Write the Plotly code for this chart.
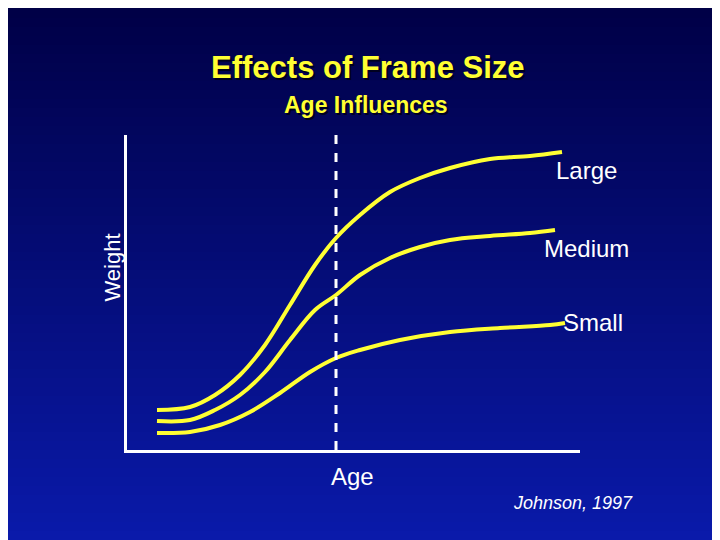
import plotly.graph_objects as go

# data (x = age units, y = weight units)
large_x = [30,63,88,113,138,163,188,209,233,263,293,323,363,403,435]
large_y = [40,43,55,75,105,145,185,212,235,258,272,282,291,294,298]
med_x = [30,63,88,113,138,163,188,209,233,263,293,323,363,403,428]
med_y = [29,30,40,55,78,110,140,155,175,192,203,210,214,217,220]
small_x = [30,63,93,123,153,183,209,233,273,323,373,423,438]
small_y = [17,18,25,38,57,78,92,100,110,118,122,125,127]

W, H = 712, 532  # page has 8px body margin
OFF = 8
fig = go.Figure()
for xs, ys in [(large_x, large_y), (med_x, med_y), (small_x, small_y)]:
    fig.add_trace(go.Scatter(x=xs, y=ys, mode="lines", line=dict(color="#ffff33", width=4, shape="spline"),
                             hoverinfo="skip", showlegend=False))

def fx(px): return (px - 127) / 453
def fy(py): return (450 - py) / 315

shapes = []
n = 60
for i in range(n):
    t = i / (n - 1)  # 0 top, 1 bottom
    r = int(10 * t); g = int(26 * t); b = int(70 + 100 * t)
    y_top = i / n * 540; y_bot = (i + 1) / n * 540 + 1
    shapes.append(dict(type="rect", xref="paper", yref="paper", x0=fx(-20), x1=fx(740),
                       y0=fy(y_bot), y1=fy(y_top),
                       fillcolor=f"rgb({r},{g},{b})", line=dict(width=0), layer="below"))
shapes.append(dict(type="line", x0=209, x1=209, y0=0, y1=318, line=dict(color="white", width=3, dash="dash")))
fig.update_layout(shapes=shapes)

ann = []
def txt(s, x, y, size, color, bold=False, italic=False, shadow=False, angle=0):
    if bold: s = f"<b>{s}</b>"
    if italic: s = f"<i>{s}</i>"
    if shadow:
        ann.append(dict(text=s, x=fx(x+2), y=fy(y+2), xref="paper", yref="paper", showarrow=False,
                        font=dict(size=size, color="#000020", family="Liberation Sans"), textangle=angle))
    ann.append(dict(text=s, x=fx(x), y=fy(y), xref="paper", yref="paper", showarrow=False,
                    font=dict(size=size, color=color, family="Liberation Sans"), textangle=angle))

txt("Effects of Frame Size", 368, 48, 31, "#ffff33", bold=True, shadow=True)
txt("Age Influences", 366, 90, 23, "#ffff33", bold=True, shadow=True)
txt("Large", 619, 155, 24, "white")
txt("Medium", 631, 233, 24, "white")
txt("Small", 625, 322, 24, "white")
txt("Age", 352, 492, 24, "white")
txt("Weight", 97, 232, 22, "white", angle=-90)
txt("Johnson, 1997", 635, 515, 18, "white", italic=True)

fig.update_layout(
    width=W, height=H, margin=dict(l=127-OFF, r=140, t=135-OFF, b=90),
    paper_bgcolor="#00004a", plot_bgcolor="rgba(0,0,0,0)",
    annotations=ann,
    xaxis=dict(range=[0, 453], showgrid=False, zeroline=False, showticklabels=False, ticks="",
               showline=True, linecolor="white", linewidth=3, fixedrange=True),
    yaxis=dict(range=[0, 315], showgrid=False, zeroline=False, showticklabels=False, ticks="",
               showline=True, linecolor="white", linewidth=3, fixedrange=True),
)
fig.write_html("out.html")
